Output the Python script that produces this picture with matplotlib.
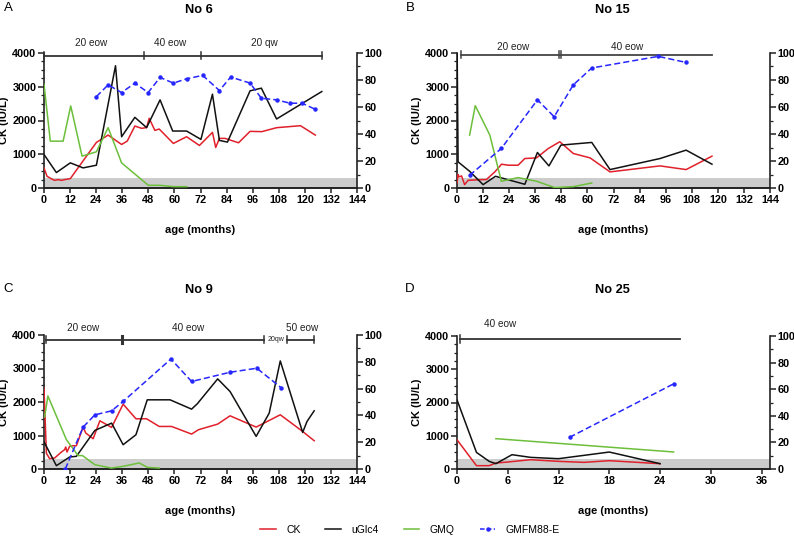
import matplotlib
matplotlib.use("Agg")
import matplotlib.pyplot as plt
from matplotlib.lines import Line2D
from matplotlib.ticker import MultipleLocator

plt.rcParams['font.family'] = ['Liberation Sans', 'DejaVu Sans']

# ---------------- data ----------------
# Panel A (No 6)
A_ck_x = [0, 1.4, 3.8, 4.9, 6.5, 8, 10.3, 12.1, 24.1, 29.5, 35.7, 38.3, 41.8, 44.9, 47.2, 48.4, 51, 53, 59.5, 65.6, 71.5, 77.5, 79, 80.7, 83.3, 89.5, 94.8, 100.2, 107, 118, 124.8]
A_ck_y = [596, 347, 258, 228, 248, 228, 258, 278, 1350, 1568, 1290, 1390, 1836, 1768, 1790, 2064, 1707, 1747, 1320, 1519, 1260, 1648, 1200, 1470, 1470, 1340, 1678, 1670, 1787, 1846, 1568]
A_gl_x = [0, 5.7, 12.1, 18, 24.1, 32.9, 35.7, 41.8, 47.2, 53.4, 59.2, 65.6, 72.2, 77.5, 80.7, 84.4, 94.8, 100, 107, 127.8]
A_gl_y = [993, 457, 745, 596, 675, 3623, 1519, 2094, 1790, 2611, 1688, 1688, 1440, 2780, 1410, 1360, 2879, 2958, 2045, 2858]
A_gmq_x = [0, 2.9, 8.8, 12.3, 17.5, 24.1, 29.5, 35.7, 48, 53.4, 59.5, 65.6]
A_gmq_y = [76.9, 34.7, 34.7, 60.8, 23.6, 26.8, 44.7, 18.6, 2.0, 2.0, 1.0, 1.0]
A_gmfm_x = [24.1, 29.5, 35.7, 41.8, 47.9, 53.4, 59.5, 65.6, 73, 80.7, 85.9, 94.8, 100, 107, 113.2, 118.7, 124.8]
A_gmfm_y = [67.7, 76.4, 70.7, 77.7, 70.7, 81.9, 77.7, 80.9, 83.4, 72.2, 82.2, 77.7, 66.5, 65.3, 62.8, 62.8, 58.3]

# Panel B (No 15)
B_ck_x = [0, 0.5, 0.9, 2.1, 3.5, 5.1, 11.2, 13.5, 17.4, 20.5, 23.7, 28.1, 31.2, 36.6, 42, 47.3, 53.5, 61.2, 70.4, 93.4, 105.4, 117.3]
B_ck_y = [150, 397, 330, 357, 99, 228, 248, 250, 477, 705, 675, 675, 873, 893, 1171, 1370, 1022, 893, 477, 655, 546, 943]
B_gl_x = [0, 0.5, 5.8, 12, 17.7, 31.2, 37, 42.3, 47.8, 62, 70.4, 93.4, 105.4, 117.3]
B_gl_y = [4600, 774, 496, 99, 347, 110, 1052, 655, 1271, 1350, 546, 873, 1122, 705]
B_gmq_x = [5.8, 8.4, 15.1, 20.4, 28.1, 36.6, 45, 53.5, 62]
B_gmq_y = [39.2, 61.0, 39.2, 5.0, 7.7, 5.0, 0.3, 1.0, 3.7]
B_gmfm_x = [5.8, 20.4, 37, 44.7, 53.5, 62, 92.6, 105.4]
B_gmfm_y = [9.4, 29.3, 65.3, 52.8, 76.4, 88.9, 97.5, 93.0]

# Panel C (No 9)
C_ck_x = [0, 1.1, 2.6, 4.9, 8, 9.5, 10, 10.6, 11.8, 13.4, 14.9, 18, 19.2, 22.6, 25.7, 31.1, 36.4, 42.3, 47.2, 53, 58.7, 67.9, 71, 79.9, 85.6, 97.6, 108.7, 119, 124.3]
C_ck_y = [2410, 470, 308, 328, 507, 577, 657, 507, 677, 695, 695, 1251, 1075, 903, 1439, 1241, 1936, 1499, 1499, 1270, 1270, 1042, 1171, 1340, 1588, 1251, 1618, 1121, 844]
C_gl_x = [0, 5.7, 11.8, 14.9, 23.4, 31.1, 36.4, 42.3, 47.5, 58, 67.9, 70.5, 79.9, 85.6, 97.6, 103.6, 108.7, 119, 121, 124.3]
C_gl_y = [813, 99, 358, 378, 1151, 1370, 725, 1022, 2065, 2065, 1787, 1945, 2690, 2313, 973, 1667, 3226, 1092, 1419, 1737]
C_gmq_x = [0.3, 1.8, 10.3, 15.7, 17.7, 23.4, 31, 36.4, 43.8, 47.6, 53]
C_gmq_y = [39.0, 54.5, 21.9, 10.0, 10.0, 3.2, 0.7, 2.0, 4.5, 1.2, 0.7]
C_gmfm_x = [9.8, 18, 23.4, 31.1, 36.4, 58.4, 67.9, 85.6, 97.9, 109]
C_gmfm_y = [0.0, 31.3, 40.4, 43.4, 50.4, 82.1, 65.3, 72.2, 75.2, 60.8]

# Panel D (No 25)
D_ck_x = [0, 2.3, 3.8, 4.6, 6, 8.7, 12, 15, 18, 24]
D_ck_y = [880, 100, 100, 180, 210, 280, 230, 200, 250, 160]
D_gl_x = [0, 2.3, 3.8, 4.6, 6.5, 8.7, 12, 18, 24]
D_gl_y = [2080, 500, 230, 160, 430, 350, 310, 510, 160]
D_gmq_x = [4.6, 25.6]
D_gmq_y = [22.8, 12.8]
D_gmfm_x = [13.3, 25.6]
D_gmfm_y = [23.8, 64.0]

titles = ["No 6", "No 15", "No 9", "No 25"]
letters = ["A", "B", "C", "D"]
series_names = ["CK", "uGlc4", "GMQ", "GMFM88-E"]

# treatment bars: (segments, caps, labels)
A_bar_seg = [(0, 128)]
A_bar_caps = [0, 46, 72, 128]
A_bar_lab = [(21.8, "20 eow"), (58, "40 eow"), (101.4, "20 qw")]
B_bar_seg = [(1.7, 117.4)]
B_bar_caps = [1.7, 47.1, 47.9]
B_bar_lab = [(25.7, "20 eow"), (78.2, "40 eow")]
C_bar_seg = [(1.1, 101), (112, 124.3)]
C_bar_caps = [1.1, 35.7, 101, 112, 124.3]
C_bar_lab = [(18, "20 eow"), (66.4, "40 eow"), (118.6, "50 eow")]
D_bar_seg = [(0.3, 26.4)]
D_bar_caps = [0.3]
D_bar_lab = [(5.1, "40 eow")]

# ---------------- style ----------------
C_RED = "#e0202a"
C_BLK = "#111111"
C_GRN = "#6cbf3a"
C_BLU = "#2626ff"

W, H = 794, 536
fig = plt.figure(figsize=(W / 100, H / 100), dpi=100)

def rect(l, r, t, b):
    return [l / W, 1 - b / H, (r - l) / W, (b - t) / H]

rects = [rect(44, 357, 53, 188), rect(457, 770, 53, 188),
         rect(44, 357, 335, 469), rect(457, 770, 336, 469)]

panels = [
    (A_ck_x, A_ck_y, A_gl_x, A_gl_y, A_gmq_x, A_gmq_y, A_gmfm_x, A_gmfm_y, 144, 12, A_bar_seg, A_bar_caps, A_bar_lab, 3920, 4300),
    (B_ck_x, B_ck_y, B_gl_x, B_gl_y, B_gmq_x, B_gmq_y, B_gmfm_x, B_gmfm_y, 144, 12, B_bar_seg, B_bar_caps, B_bar_lab, 3950, 4180),
    (C_ck_x, C_ck_y, C_gl_x, C_gl_y, C_gmq_x, C_gmq_y, C_gmfm_x, C_gmfm_y, 144, 12, C_bar_seg, C_bar_caps, C_bar_lab, 3860, 4200),
    (D_ck_x, D_ck_y, D_gl_x, D_gl_y, D_gmq_x, D_gmq_y, D_gmfm_x, D_gmfm_y, 37, 6, D_bar_seg, D_bar_caps, D_bar_lab, 3910, 4360),
]

lw = 1.1

for i, (p, r) in enumerate(zip(panels, rects)):
    ckx, cky, glx, gly, gqx, gqy, gfx, gfy, xmax, xstep, segs, caps, labs, bary, laby = p
    ax = fig.add_axes(r)
    ax2 = ax.twinx()
    ax.set_xlim(0, xmax)
    ax.set_ylim(0, 4000)
    ax2.set_ylim(0, 100)
    ax.axhspan(0, 300, color="#cccccc", zorder=0, lw=0)
    ax.plot(ckx, cky, color=C_RED, lw=lw, zorder=3)
    ax.plot(glx, gly, color=C_BLK, lw=lw, zorder=3)
    ax2.plot(gqx, gqy, color=C_GRN, lw=lw, zorder=3)
    ax2.plot(gfx, gfy, color=C_BLU, lw=lw, ls=(0, (4, 2)), marker="o", ms=2.2, zorder=3)

    # treatment bar
    barc = "#333333" if i != 1 else "#444444"
    for s0, s1 in segs:
        ax.plot([s0, s1], [bary, bary], color=barc, lw=1.3, clip_on=False, zorder=5)
    for c in caps:
        lwc = 2.2 if (i == 2 and c == 35.7) else 1.1
        ax.plot([c, c], [bary - 110, bary + 110], color=barc, lw=lwc, clip_on=False, zorder=5)
    for lx, lt in labs:
        ax.text(lx, laby, lt, ha="center", va="center", fontsize=7.2, color="#222222", clip_on=False)
    if i == 2:
        ax.text(106.5, bary, "20qw", ha="center", va="center", fontsize=5, color="#222222")

    ax.set_xticks(range(0, (144 if xmax > 40 else 36) + 1, xstep))
    ax.yaxis.set_major_locator(MultipleLocator(1000))
    ax.yaxis.set_minor_locator(MultipleLocator(250))
    ax2.yaxis.set_major_locator(MultipleLocator(20))
    ax2.yaxis.set_minor_locator(MultipleLocator(10))
    for a in (ax, ax2):
        for sp in a.spines.values():
            sp.set_linewidth(1.2)
            sp.set_color("#222222")
        a.spines["top"].set_visible(False)
        a.tick_params(which="major", length=4, width=1.1, color="#222222", pad=1.5)
        a.tick_params(which="minor", length=2.2, width=0.9, color="#222222")
        for lab in a.get_xticklabels() + a.get_yticklabels():
            lab.set_fontsize(7.8)
            lab.set_fontweight("bold")
    ax2.spines["left"].set_visible(False)
    ax.spines["right"].set_visible(False)
    ax.tick_params(axis="x", which="major", length=3.5)

    ax.set_ylabel("CK (IU/L)", fontsize=8, fontweight="bold")
    ax.yaxis.set_label_coords(-0.112, 0.5)
    ax.set_xlabel("age (months)", fontsize=8, fontweight="bold")
    ax.xaxis.set_label_coords(0.5, -0.275)

# titles / letters placed in figure pixels
for i, (tx, ty, lx, ly) in enumerate([(199, 10, 8, 8), (612, 10, 410, 8), (199, 290, 8, 289), (612, 290, 410, 289)]):
    fig.text(tx / W, 1 - ty / H, titles[i], ha="center", va="center", fontsize=9.2, fontweight="bold")
    fig.text(lx / W, 1 - ly / H, letters[i], ha="center", va="center", fontsize=9.5)

handles = [Line2D([], [], color=C_RED, lw=lw),
           Line2D([], [], color=C_BLK, lw=lw),
           Line2D([], [], color=C_GRN, lw=lw),
           Line2D([], [], color=C_BLU, lw=lw, ls=(0, (3, 1.5)), marker="o", ms=2.2)]
fig.legend(handles, series_names, loc="center", bbox_to_anchor=(410 / W, 1 - 530 / H), ncol=4,
           frameon=False, fontsize=7.5, handlelength=1.5, columnspacing=2.4, handletextpad=1.0)

fig.savefig("out.png", dpi=100)
